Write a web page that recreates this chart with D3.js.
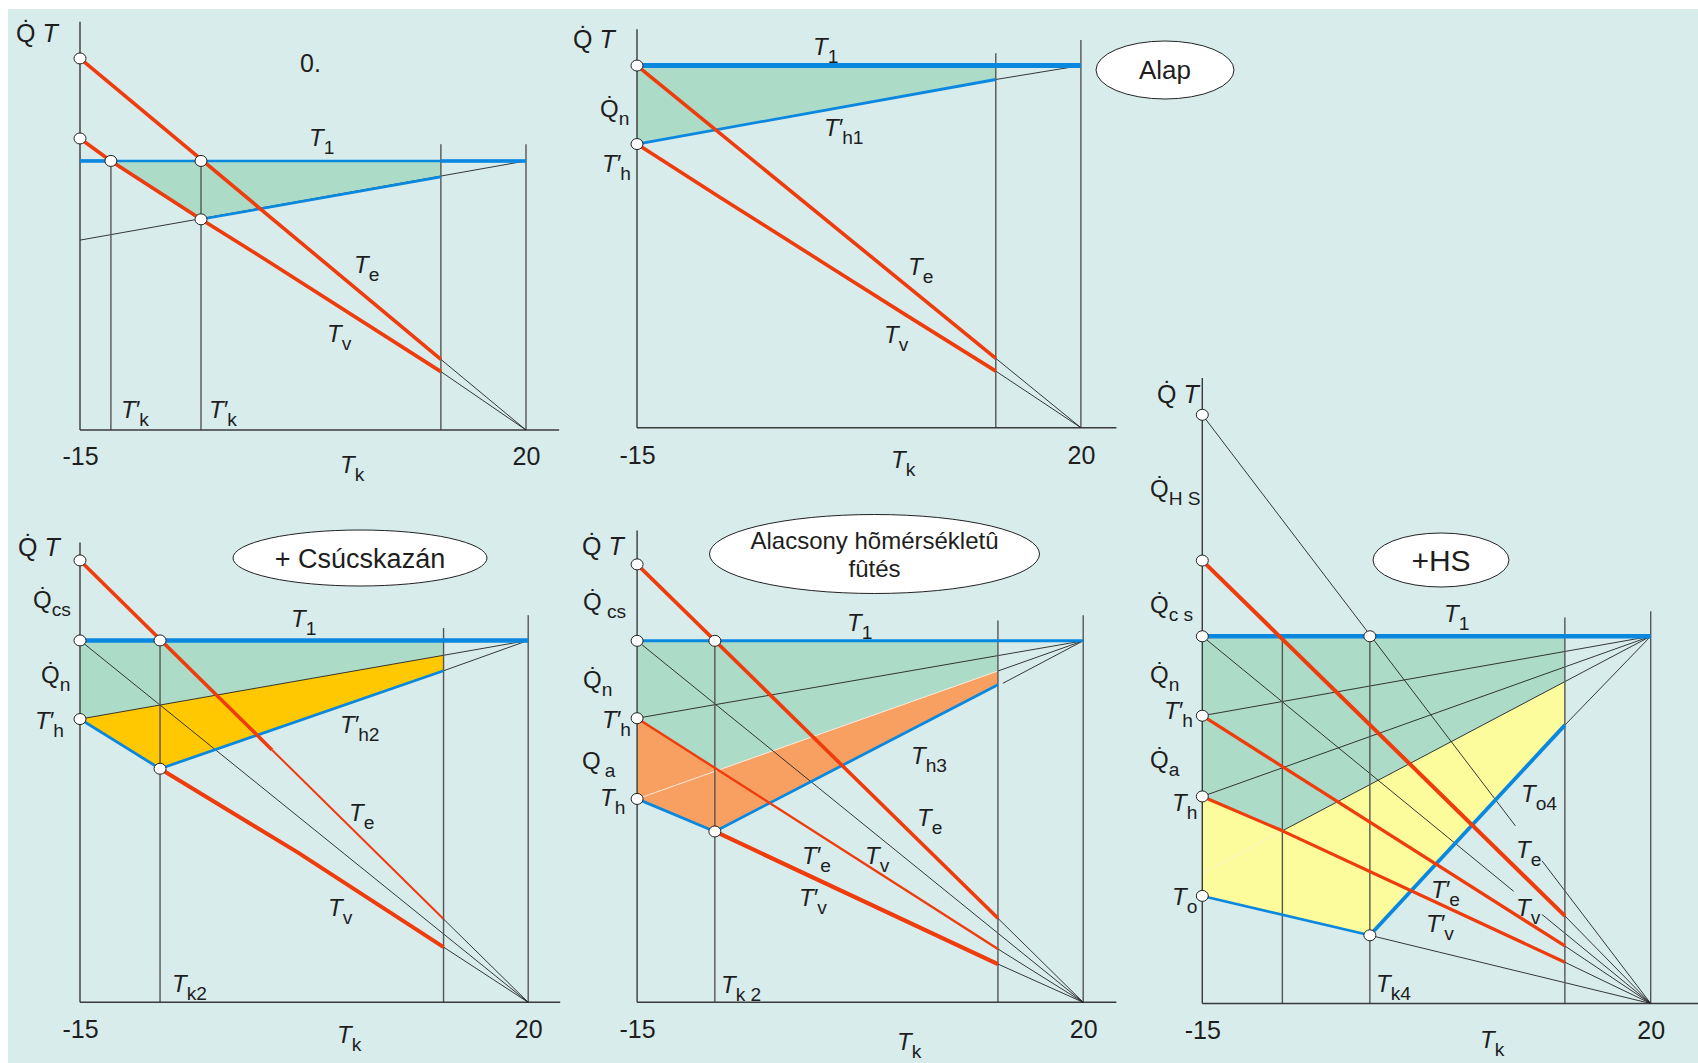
<!DOCTYPE html>
<html>
<head>
<meta charset="utf-8">
<script src="https://cdn.jsdelivr.net/npm/d3@7"></script>
<style>
body { margin: 0; background: #fff; }
text { font-family: "Liberation Sans", Arial, sans-serif; fill: #1e1e1e; }
</style>
</head>
<body>
<svg id="chart"></svg>
<script>
// x: outdoor temperature Tk (°C); y: relative value, 0..100 of the axis height
const tkTicks = [-15, 20];
const heatLimit = [13.32, 13.29, 13.3, 13.39, 13.31];

// panel "0."
const p0T1 = [[-15, 65.9], [20, 65.9]];
const p0Te = [[-15, 91], [13.32, 17.3], [20, 0]];
const p0Tv = [[-15, 71.4], [-12.575, 65.9], [-5.505, 51.6], [-0.74, 42.3], [13.32, 14.3], [20, 0]];
const p0Blue = [[-12.575, 65.9], [-5.505, 51.6], [13.32, 62.0]];
const p0Aux = [[[-15, 46.5], [20, 65.9]]];
const p0Vert = [[-12.575, 65.9], [-5.505, 65.9], [13.32, 70], [20, 70]];
const p0Dots = [[-15, 91], [-15, 71.4], [-12.575, 65.9], [-5.505, 65.9], [-5.505, 51.6]];
const p0Green = [[-12.575, 65.9], [13.32, 65.9], [13.32, 62.0], [-5.505, 51.6]];

// panel "Alap"
const p1T1 = [[-15, 90.9], [20, 90.9]];
const p1Te = [[-15, 90.9], [13.29, 17.4], [20, 0]];
const p1Tv = [[-15, 71.2], [-8.5, 57.9], [0, 40.8], [6, 28.7], [13.29, 14.2], [20, 0]];
const p1Blue = [[-15, 71.2], [13.29, 87.4]];
const p1Aux = [[[13.29, 87.4], [20, 90.9]]];
const p1Vert = [[13.29, 94], [20, 97.3]];
const p1Dots = [[-15, 90.9], [-15, 71.2]];
const p1Green = [[-15, 90.9], [13.29, 90.9], [13.29, 87.4], [-15, 71.2]];

// panel "+HS"
const p2T1 = [[-15, 58.7], [20, 58.7]];
const p2HS = [[-15, 94.1], [20, 0]];
const p2Diag = [[-15, 58.7], [20, 0]];
const p2Te = [[-15, 70.8], [13.3, 14.0], [20, 0]];
const p2Tv = [[-15, 46.0], [13.3, 9.2], [20, 0]];
const p2Tv2 = [[-15, 33.1], [-8.75, 27.6], [13.3, 6.6], [20, 0]];
const p2Blue = [[-15, 17.2], [-1.92, 10.9], [13.3, 44.5]];
const p2Aux = [[[-15, 46.0], [20, 58.7]], [[-15, 33.1], [20, 58.7]], [[-8.75, 27.6], [20, 58.7]],
               [[13.3, 44.5], [20, 58.7]], [[-1.92, 10.9], [20, 0]]];
const p2Faint = [[-15, 20.8], [-8.75, 27.6]];
const p2Vert = [[-8.75, 58.7], [-1.92, 58.7], [13.3, 61.7], [20, 62.7]];
const p2Dots = [[-15, 94.1], [-15, 70.8], [-15, 58.7], [-1.92, 58.7], [-15, 46.0], [-15, 33.1], [-15, 17.2], [-1.92, 10.9]];
const p2Green = [[-15, 58.7], [13.3, 58.7], [13.3, 51.4], [-8.75, 27.6], [-15, 33.1]];
const p2Yellow = [[-15, 33.1], [-8.75, 27.6], [13.3, 51.4], [13.3, 44.5], [-1.92, 10.9], [-15, 17.2]];

// panel "+ Csúcskazán"
const p3T1 = [[-15, 78.7], [20, 78.7]];
const p3Te = [[-15, 96.1], [13.39, 18.1], [20, 0]];
const p3Tv = [[-8.75, 50.8], [2, 32.6], [13.39, 12.0], [20, 0]];
const p3Blue = [[-15, 61.6], [-8.75, 50.8], [13.39, 72.1]];
const p3Aux = [[[-15, 78.7], [20, 0]], [[-15, 61.6], [20, 78.7]], [[13.39, 72.1], [20, 78.7]]];
const p3Vert = [[-8.75, 78.7], [13.39, 81.4], [20, 84.2]];
const p3Dots = [[-15, 96.1], [-15, 78.7], [-8.75, 78.7], [-15, 61.6], [-8.75, 50.8]];
const p3Green = [[-15, 78.7], [13.39, 78.7], [13.39, 75.5], [-15, 61.6]];
const p3Orange = [[-15, 61.6], [13.39, 75.5], [13.39, 72.1], [-8.75, 50.8]];

// panel "Alacsony hõmérsékletû fûtés"
const p4T1 = [[-15, 76.6], [20, 76.6]];
const p4Te = [[-15, 92.8], [13.31, 17.8], [20, 0]];
const p4Te2 = [[-15, 60.2], [13.31, 11.3], [20, 0]];
const p4Tv2 = [[-8.9, 36.2], [13.31, 8.1], [20, 0]];
const p4Blue = [[-15, 43.1], [-8.9, 36.2], [13.31, 67.3]];
const p4Aux = [[[-15, 76.6], [20, 0]], [[-15, 60.2], [20, 76.6]], [[13.31, 70.2], [20, 76.6]], [[13.7, 67.6], [20, 76.6]]];
const p4Faint = [[-15, 43.1], [13.31, 70.2]];
const p4Vert = [[-8.9, 76.6], [13.31, 80.9], [20, 82.0]];
const p4Dots = [[-15, 92.8], [-15, 76.6], [-8.9, 76.6], [-15, 60.2], [-15, 43.1], [-8.9, 36.2]];
const p4Green = [[-15, 76.6], [13.31, 76.6], [13.31, 70.2], [-8.61, 49.2], [-15, 60.2]];
const p4Salmon = [[-15, 60.2], [-8.61, 49.2], [13.31, 70.2], [13.31, 67.3], [-8.9, 36.2], [-15, 43.1]];

const BG = "#d9ecec", GREEN = "#acdbc7", BLUE = "#0a88e0", RED = "#ef3c0c",
      YELLOW = "#fcfc9c", ORANGE = "#ffc800", SALMON = "#f8a062";

const W = 1698, H = 1063;
const svg = d3.select("#chart").attr("width", W).attr("height", H);
svg.append("rect").attr("x", 8).attr("y", 9).attr("width", W - 8).attr("height", H - 9).attr("fill", BG);

function makePanel(box, heat) {
    const x = d3.scaleLinear().domain([-15, 20]).range([box.left, box.right]);
    const y = d3.scaleLinear().domain([0, 100]).range([box.bottom, box.top]);
    return { x: x, y: y, heat: heat, g: svg.append("g"), box: box };
}

function valueAt(pts, x) {
    for (let i = 0; i < pts.length - 1; i++) {
        const p = pts[i], q = pts[i + 1];
        if (x >= p[0] && x <= q[0]) return p[1] + (q[1] - p[1]) * (x - p[0]) / (q[0] - p[0]);
    }
    return pts[pts.length - 1][1];
}
function cut(pts, a, b) {
    const inner = pts.filter(p => p[0] > a && p[0] < b);
    return [[a, valueAt(pts, a)]].concat(inner, [[b, valueAt(pts, b)]]);
}

function line(P, pts, color, w) {
    P.g.append("path")
        .attr("d", d3.line().x(d => P.x(d[0])).y(d => P.y(d[1]))(pts))
        .attr("fill", "none").attr("stroke", color).attr("stroke-width", w)
        .attr("stroke-linejoin", "round");
}
function area(P, pts, color) {
    P.g.append("path")
        .attr("d", d3.line().x(d => P.x(d[0])).y(d => P.y(d[1]))(pts) + "Z")
        .attr("fill", color);
}
// red up to the heating limit, thin black after it
function heated(P, pts, w) {
    line(P, cut(pts, P.heat, 20), "#222", 0.9);
    line(P, cut(pts, pts[0][0], P.heat), RED, w);
}
function verticals(P, vs) {
    vs.forEach(v => line(P, [[v[0], 0], v], "#555", 1.4));
}
function axes(P, xEnd, pad) {
    line(P, [[-15, 0], [-15, 100]], "#3a3a3a", 1.4);
    line(P, [[-15, 0], [xEnd, 0]], "#3a3a3a", 1.4);
    const ax = P.g.append("g")
        .attr("transform", `translate(0, ${P.box.bottom})`)
        .call(d3.axisBottom(P.x).tickValues(tkTicks).tickSize(0).tickPadding(pad).tickFormat(d => String(d)));
    ax.select(".domain").remove();
    ax.selectAll("text").attr("font-size", 25).attr("fill", "#1e1e1e")
        .attr("font-family", '"Liberation Sans", Arial, sans-serif');
}
function dots(P, ds) {
    P.g.selectAll(null).data(ds).enter().append("ellipse")
        .attr("cx", d => P.x(d[0])).attr("cy", d => P.y(d[1]))
        .attr("rx", 6).attr("ry", 5.5)
        .attr("fill", "#fff").attr("stroke", "#222").attr("stroke-width", 1);
}

// text helpers
function sym(px, py, base, sub, prime, size) {
    size = size || 24;
    const t = svg.append("text").attr("x", px).attr("y", py).attr("font-size", size);
    if (base === "T") {
        t.append("tspan").attr("font-style", "italic").text("T");
    } else if (base === "Q") {
        t.append("tspan").text("Q\u0307");
    } else {
        t.append("tspan").text(base);
    }
    if (prime) t.append("tspan").attr("font-style", "italic").attr("dx", -1).text("\u2032");
    if (sub) t.append("tspan").attr("dy", size * 0.32)
        .attr("font-size", size * 0.8).text(sub);
}
function header(px, py) {
    const t = svg.append("text").attr("x", px).attr("y", py).attr("font-size", 25);
    t.append("tspan").text("Q\u0307 ");
    t.append("tspan").attr("font-style", "italic").text("T");
}
function bubble(cx, cy, rx, ry, lines, size, lh) {
    svg.append("ellipse").attr("cx", cx).attr("cy", cy).attr("rx", rx).attr("ry", ry)
        .attr("fill", "#fff").attr("stroke", "#222").attr("stroke-width", 1);
    lines.forEach((s, i) => {
        svg.append("text").attr("x", cx).attr("y", cy + size * 0.36 + (i - (lines.length - 1) / 2) * lh)
            .attr("text-anchor", "middle").attr("font-size", size).text(s);
    });
}

// ---------- panel "0." ----------
const P0 = makePanel({ left: 80, right: 526, bottom: 430, top: 21.7 }, heatLimit[0]);
area(P0, p0Green, GREEN);
p0Aux.forEach(a => line(P0, a, "#222", 0.9));
verticals(P0, p0Vert);
axes(P0, 22.6, 17);
line(P0, p0T1, BLUE, 2.5);
line(P0, cut(p0T1, -15, -12.575), BLUE, 3.5);
line(P0, cut(p0T1, 13.32, 20), BLUE, 3.5);
line(P0, p0Blue, BLUE, 2.6);
heated(P0, p0Te, 3.6);
heated(P0, p0Tv, 3.6);
dots(P0, p0Dots);

// ---------- panel "Alap" ----------
const P1 = makePanel({ left: 637, right: 1080.9, bottom: 427.7, top: 29.3 }, heatLimit[1]);
area(P1, p1Green, GREEN);
p1Aux.forEach(a => line(P1, a, "#222", 0.9));
verticals(P1, p1Vert);
axes(P1, 22.8, 19);
line(P1, p1T1, BLUE, 5);
line(P1, p1Blue, BLUE, 2.8);
heated(P1, p1Te, 3.6);
heated(P1, p1Tv, 3.6);
dots(P1, p1Dots);

// ---------- panel "+HS" ----------
const P2 = makePanel({ left: 1202.3, right: 1650.7, bottom: 1003.5, top: 377.9 }, heatLimit[2]);
area(P2, p2Green, GREEN);
area(P2, p2Yellow, YELLOW);
line(P2, p2Faint, "#f4f4c8", 1);
p2Aux.forEach(a => line(P2, a, "#222", 0.9));
line(P2, cut(p2HS, -15, 9.44), "#222", 0.9);
line(P2, cut(p2HS, 11.52, 20), "#222", 0.9);
line(P2, cut(p2Diag, -15, 9.31), "#222", 0.9);
line(P2, cut(p2Diag, 11.52, 20), "#222", 0.9);
verticals(P2, p2Vert);
axes(P2, 23.8, 18);
line(P2, p2T1, BLUE, 4.5);
line(P2, cut(p2Blue, -15, -1.92), BLUE, 2.6);
line(P2, cut(p2Blue, -1.92, 13.3), BLUE, 3.8);
heated(P2, p2Te, 4);
heated(P2, p2Tv, 3.2);
heated(P2, p2Tv2, 3.2);
dots(P2, p2Dots);

// ---------- panel "+ Csúcskazán" ----------
const P3 = makePanel({ left: 80, right: 528.2, bottom: 1002.3, top: 542.5 }, heatLimit[3]);
area(P3, p3Green, GREEN);
area(P3, p3Orange, ORANGE);
p3Aux.forEach(a => line(P3, a, "#222", 0.9));
verticals(P3, p3Vert);
axes(P3, 22.5, 18);
line(P3, p3T1, BLUE, 4.5);
line(P3, p3Blue, BLUE, 2.8);
line(P3, cut(p3Te, 0, 13.39), RED, 2);
line(P3, cut(p3Te, 13.39, 20), "#222", 0.9);
line(P3, cut(p3Te, -15, 0), RED, 3.6);
heated(P3, p3Tv, 4);
dots(P3, p3Dots);

// ---------- panel "Alacsony hõmérsékletû fûtés" ----------
const P4 = makePanel({ left: 637.1, right: 1083.2, bottom: 1002.3, top: 530.4 }, heatLimit[4]);
area(P4, p4Green, GREEN);
area(P4, p4Salmon, SALMON);
line(P4, p4Faint, "#fbe9dc", 1);
p4Aux.forEach(a => line(P4, a, "#222", 0.9));
verticals(P4, p4Vert);
axes(P4, 22.6, 18);
line(P4, p4T1, BLUE, 3);
line(P4, p4Blue, BLUE, 2.8);
heated(P4, p4Te, 3.6);
heated(P4, p4Te2, 2.4);
heated(P4, p4Tv2, 4.2);
dots(P4, p4Dots);

// ---------- labels ----------
// panel "0."
header(16, 42);
svg.append("text").attr("x", 300).attr("y", 72).attr("font-size", 25).text("0.");
sym(309, 146, "T", "1");
sym(354, 273, "T", "e");
sym(327, 342, "T", "v");
sym(121, 418, "T", "k", true);
sym(209, 418, "T", "k", true);
sym(340, 473, "T", "k");

// panel "Alap"
header(573, 48);
sym(813, 55, "T", "1");
sym(600, 117, "Q", "n");
sym(602, 172, "T", "h", true);
sym(824, 136, "T", "h1", true);
sym(908, 275, "T", "e");
sym(884, 343, "T", "v");
sym(891, 468, "T", "k");
bubble(1165, 70, 69, 29, ["Alap"], 26, 0);

// panel "+HS"
header(1157, 403);
sym(1150, 497, "Q", "H S");
sym(1150, 613, "Q", "c s");
sym(1150, 683, "Q", "n");
sym(1164, 719, "T", "h", true);
sym(1150, 768, "Q", "a");
sym(1172, 811, "T", "h");
sym(1172, 905, "T", "o");
sym(1444, 622, "T", "1");
sym(1521, 802, "T", "o4");
sym(1516, 858, "T", "e");
sym(1431, 898, "T", "e", true);
sym(1516, 916, "T", "v");
sym(1426, 932, "T", "v", true);
sym(1376, 992, "T", "k4");
sym(1480, 1048, "T", "k");
bubble(1441, 560, 68, 27, ["+HS"], 30, 0);

// panel "+ Csúcskazán"
header(18, 556);
sym(33, 608, "Q", "cs");
sym(41, 683, "Q", "n");
sym(35, 729, "T", "h", true);
sym(291, 627, "T", "1");
sym(340, 733, "T", "h2", true);
sym(349, 821, "T", "e");
sym(328, 916, "T", "v");
sym(172, 992, "T", "k2");
sym(337, 1043, "T", "k");
bubble(360, 558, 127, 28, ["+ Csúcskazán"], 27, 0);

// panel "Alacsony hõmérsékletû fûtés"
header(582, 555);
sym(583, 610, "Q", " cs");
sym(583, 688, "Q", "n");
sym(602, 728, "T", "h", true);
svg.append("text").attr("x", 582).attr("y", 769).attr("font-size", 24)
    .call(t => { t.append("tspan").text("Q"); t.append("tspan").attr("dx", 4).attr("dy", 8).attr("font-size", 19).text("a"); });
sym(600, 806, "T", "h");
sym(847, 631, "T", "1");
sym(911, 764, "T", "h3");
sym(917, 826, "T", "e");
sym(802, 864, "T", "e", true);
sym(865, 864, "T", "v");
sym(799, 906, "T", "v", true);
sym(721, 993, "T", "k 2");
sym(897, 1050, "T", "k");
bubble(874.5, 554, 165, 39.5, ["Alacsony hõmérsékletû", "fûtés"], 24, 28);
</script>
</body>
</html>
